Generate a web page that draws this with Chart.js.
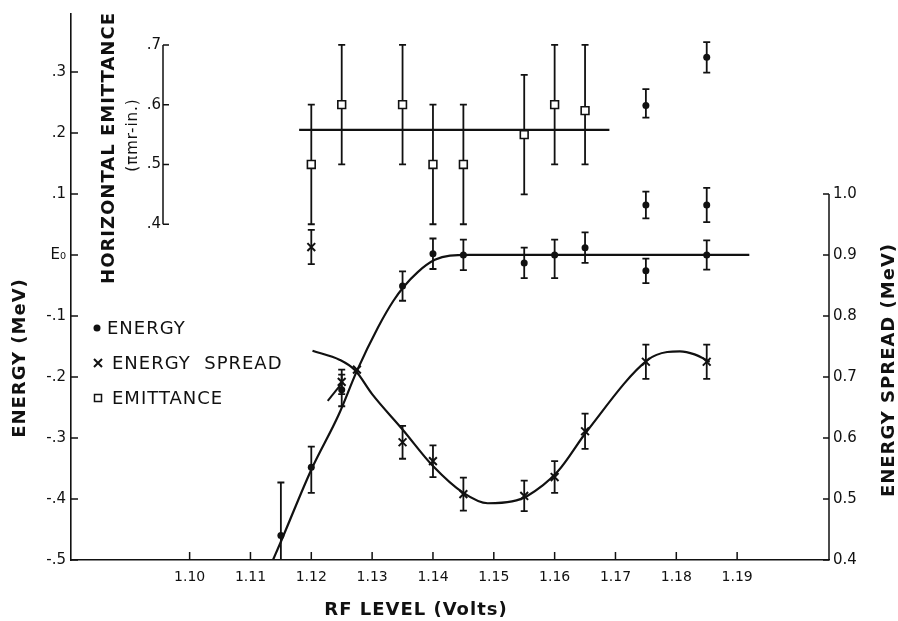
<!DOCTYPE html>
<html lang="en">
<head>
<meta charset="UTF-8">
<title>Energy, energy spread and emittance vs RF level</title>
<script src="https://cdn.jsdelivr.net/npm/chart.js"></script>
<style>
  body { margin: 0; background: #fff; }
</style>
</head>
<body>
<canvas id="myChart" width="898" height="621"></canvas>
<script>
// tick values and labels
const xTicks = [1.10, 1.11, 1.12, 1.13, 1.14, 1.15, 1.16, 1.17, 1.18, 1.19];
const xTickLabels = ['1.10', '1.11', '1.12', '1.13', '1.14', '1.15', '1.16', '1.17', '1.18', '1.19'];
const energyTicks = [-0.5, -0.4, -0.3, -0.2, -0.1, 0, 0.1, 0.2, 0.3];
const energyTickLabels = ['-.5', '-.4', '-.3', '-.2', '-.1', 'E\u2080', '.1', '.2', '.3'];
const spreadTicks = [0.4, 0.5, 0.6, 0.7, 0.8, 0.9, 1.0];
const spreadTickLabels = ['0.4', '0.5', '0.6', '0.7', '0.8', '0.9', '1.0'];
const emitTicks = [0.4, 0.5, 0.6, 0.7];
const emitTickLabels = ['.4', '.5', '.6', '.7'];

// energy (MeV, relative to E0)
const energyX = [1.115, 1.12, 1.125, 1.135, 1.14, 1.145, 1.155, 1.16, 1.165, 1.175, 1.175, 1.175, 1.185, 1.185, 1.185];
const energyY = [-0.46, -0.348, -0.221, -0.051, 0.002, 0.0, -0.013, 0.0, 0.012, 0.245, 0.082, -0.026, 0.324, 0.082, 0.0];
const energyErrUp = [0.087, 0.034, 0.025, 0.024, 0.025, 0.025, 0.025, 0.025, 0.025, 0.027, 0.022, 0.02, 0.025, 0.028, 0.024];
const energyErrDown = [0.087, 0.042, 0.027, 0.024, 0.025, 0.025, 0.025, 0.038, 0.025, 0.02, 0.022, 0.02, 0.025, 0.028, 0.024];

// energy spread (MeV)
const spreadX = [1.12, 1.125, 1.1275, 1.135, 1.14, 1.145, 1.155, 1.16, 1.165, 1.175, 1.185];
const spreadY = [0.913, 0.692, 0.712, 0.593, 0.562, 0.508, 0.505, 0.536, 0.611, 0.725, 0.725];
const spreadErr = [0.028, 0.02, 0, 0.027, 0.026, 0.027, 0.025, 0.026, 0.029, 0.028, 0.028];

// horizontal emittance (pi mr-in.)
const emitX = [1.12, 1.125, 1.135, 1.14, 1.145, 1.155, 1.16, 1.165];
const emitY = [0.5, 0.6, 0.6, 0.5, 0.5, 0.55, 0.6, 0.59];
const emitErrUp = [0.1, 0.1, 0.1, 0.1, 0.1, 0.1, 0.1, 0.11];
const emitErrDown = [0.1, 0.1, 0.1, 0.1, 0.1, 0.1, 0.1, 0.09];

// hand drawn curves
const energyFitX = [1.1137, 1.115, 1.12, 1.1245, 1.1275, 1.131, 1.1335, 1.1352, 1.1375, 1.1403, 1.1428, 1.146, 1.192];
const energyFitY = [-0.5, -0.47, -0.352, -0.262, -0.19, -0.118, -0.075, -0.052, -0.028, -0.008, -0.001, 0, 0];
const spreadFitX = [1.1202, 1.1247, 1.1272, 1.13, 1.135, 1.14, 1.145, 1.149, 1.153, 1.1555, 1.1605, 1.1653, 1.1753, 1.1785, 1.1806, 1.183, 1.1855];
const spreadFitY = [0.743, 0.728, 0.711, 0.672, 0.614, 0.554, 0.51, 0.493, 0.496, 0.505, 0.545, 0.611, 0.728, 0.741, 0.742, 0.737, 0.725];
const spreadStubX = [1.1227, 1.1252];
const spreadStubY = [0.661, 0.692];
const emitFitX = [1.118, 1.169];
const emitFitY = [0.558, 0.558];

const pts = (xs, ys) => xs.map((x, i) => ({ x: x, y: ys[i] }));
const ink = '#111';
const FONT = "'DejaVu Sans', sans-serif";

Chart.defaults.font.family = FONT;
Chart.defaults.color = ink;

// error bars, drawn under the markers
const errorBars = {
    id: 'errorBars',
    beforeDatasetsDraw(chart) {
        const { ctx, chartArea } = chart;
        ctx.save();
        ctx.beginPath();
        ctx.rect(chartArea.left, chartArea.top, chartArea.right - chartArea.left, chartArea.bottom - chartArea.top);
        ctx.clip();
        ctx.strokeStyle = ink;
        ctx.lineWidth = 1.8;
        chart.data.datasets.forEach((ds, i) => {
            if (!ds.errUp) return;
            const meta = chart.getDatasetMeta(i);
            const ys = chart.scales[meta.yAxisID];
            ds.data.forEach((p, j) => {
                if (!ds.errUp[j] && !ds.errDown[j]) return;
                const px = meta.data[j].x;
                const top = ys.getPixelForValue(p.y + ds.errUp[j]);
                const bot = ys.getPixelForValue(p.y - ds.errDown[j]);
                ctx.beginPath();
                ctx.moveTo(px, top); ctx.lineTo(px, bot);
                ctx.moveTo(px - 3.5, top); ctx.lineTo(px + 3.5, top);
                ctx.moveTo(px - 3.5, bot); ctx.lineTo(px + 3.5, bot);
                ctx.stroke();
            });
        });
        ctx.restore();
    }
};

// inward ticks, partial axes, titles and legend
const decor = {
    id: 'decor',
    afterDraw(chart) {
        const { ctx, chartArea: a, scales } = chart;
        const { x, y, y2, y3 } = scales;
        ctx.save();
        ctx.strokeStyle = ink;
        ctx.fillStyle = ink;
        ctx.lineWidth = 1.5;

        ctx.beginPath();
        xTicks.forEach(v => {
            const px = x.getPixelForValue(v);
            ctx.moveTo(px, a.bottom); ctx.lineTo(px, a.bottom - 8);
        });
        energyTicks.forEach(v => {
            const py = y.getPixelForValue(v);
            ctx.moveTo(a.left, py); ctx.lineTo(a.left + 7, py);
        });
        // right axis only runs from 0.4 to 1.0
        ctx.moveTo(a.right, y2.getPixelForValue(0.4));
        ctx.lineTo(a.right, y2.getPixelForValue(1.0));
        spreadTicks.forEach(v => {
            const py = y2.getPixelForValue(v);
            ctx.moveTo(a.right, py); ctx.lineTo(a.right - 6, py);
        });
        // emittance axis inside the plot
        const ex = 163;
        ctx.moveTo(ex, y3.getPixelForValue(0.4));
        ctx.lineTo(ex, y3.getPixelForValue(0.7));
        emitTicks.forEach(v => {
            const py = y3.getPixelForValue(v);
            ctx.moveTo(ex, py); ctx.lineTo(ex + 6, py);
        });
        ctx.stroke();

        ctx.font = '15px ' + FONT;
        ctx.textAlign = 'right';
        ctx.textBaseline = 'middle';
        emitTicks.forEach((v, i) => ctx.fillText(emitTickLabels[i], ex - 2, y3.getPixelForValue(v)));

        const title = (txt, cx, cy, font, rot) => {
            ctx.save();
            ctx.translate(cx, cy);
            if (rot) ctx.rotate(-Math.PI / 2);
            ctx.font = font;
            ctx.letterSpacing = '1px';
            ctx.textAlign = 'center';
            ctx.textBaseline = 'middle';
            ctx.fillText(txt, 0, 0);
            ctx.restore();
        };
        title('RF LEVEL (Volts)', 416, 610, 'bold 18px ' + FONT, false);
        title('ENERGY (MeV)', 20, 358, 'bold 18px ' + FONT, true);
        title('ENERGY SPREAD (MeV)', 889, 370, 'bold 18px ' + FONT, true);
        title('HORIZONTAL EMITTANCE', 109, 148, 'bold 18px ' + FONT, true);
        title('(\u03c0mr-in.)', 133, 135, '15px ' + FONT, true);

        // legend
        ctx.font = '18px ' + FONT;
        ctx.letterSpacing = '1px';
        ctx.textAlign = 'left';
        ctx.textBaseline = 'middle';
        ctx.beginPath();
        ctx.arc(97, 328, 3.5, 0, Math.PI * 2);
        ctx.fill();
        ctx.fillText('ENERGY', 107, 329);
        ctx.lineWidth = 2;
        ctx.beginPath();
        ctx.moveTo(94, 359); ctx.lineTo(102, 367);
        ctx.moveTo(102, 359); ctx.lineTo(94, 367);
        ctx.stroke();
        ctx.fillText('ENERGY  SPREAD', 112, 364);
        ctx.lineWidth = 1.5;
        ctx.strokeRect(94.5, 394.5, 7, 7);
        ctx.fillText('EMITTANCE', 112, 399);
        ctx.restore();
    }
};

const ctx = document.getElementById('myChart').getContext('2d');
new Chart(ctx, {
    type: 'scatter',
    data: {
        datasets: [
            {
                label: 'Energy',
                data: pts(energyX, energyY),
                errUp: energyErrUp, errDown: energyErrDown,
                yAxisID: 'y',
                pointStyle: 'circle', pointRadius: 3.5,
                backgroundColor: ink, borderWidth: 0
            },
            {
                label: 'Energy spread',
                data: pts(spreadX, spreadY),
                errUp: spreadErr, errDown: spreadErr,
                yAxisID: 'y2',
                pointStyle: 'crossRot', pointRadius: 5.5,
                borderColor: ink, borderWidth: 2
            },
            {
                label: 'Emittance',
                data: pts(emitX, emitY),
                errUp: emitErrUp, errDown: emitErrDown,
                yAxisID: 'y3',
                pointStyle: 'rect', pointRadius: 5.5,
                backgroundColor: '#fff', borderColor: ink, borderWidth: 1.6
            },
            {
                label: 'Energy curve',
                data: pts(energyFitX, energyFitY),
                yAxisID: 'y', showLine: true, pointRadius: 0,
                cubicInterpolationMode: 'monotone',
                borderColor: ink, borderWidth: 2.2
            },
            {
                label: 'Spread curve',
                data: pts(spreadFitX, spreadFitY),
                yAxisID: 'y2', showLine: true, pointRadius: 0,
                cubicInterpolationMode: 'monotone',
                borderColor: ink, borderWidth: 2.2
            },
            {
                label: 'Spread stub',
                data: pts(spreadStubX, spreadStubY),
                yAxisID: 'y2', showLine: true, pointRadius: 0,
                borderColor: ink, borderWidth: 2
            },
            {
                label: 'Emittance mean',
                data: pts(emitFitX, emitFitY),
                yAxisID: 'y3', showLine: true, pointRadius: 0,
                borderColor: ink, borderWidth: 2.2
            }
        ]
    },
    options: {
        responsive: false,
        animation: false,
        events: [],
        layout: { padding: { top: 12, left: 0, right: 0, bottom: 0 } },
        plugins: { legend: { display: false }, tooltip: { enabled: false } },
        scales: {
            x: {
                type: 'linear', position: 'bottom',
                min: 1.0805, max: 1.2051,
                afterBuildTicks: s => { s.ticks = xTicks.map(v => ({ value: v })); },
                afterFit: s => { s.height = 61; },
                grid: { display: false, drawTicks: false },
                border: { display: true, color: ink, width: 1.6 },
                ticks: {
                    padding: 9, maxRotation: 0, autoSkip: false,
                    font: { size: 14 },
                    callback: (v, i) => xTickLabels[i]
                }
            },
            y: {
                type: 'linear', position: 'left',
                min: -0.5, max: 0.395,
                afterBuildTicks: s => { s.ticks = energyTicks.map(v => ({ value: v })); },
                afterFit: s => { s.width = 71; },
                grid: { display: false, drawTicks: false },
                border: { display: true, color: ink, width: 1.6 },
                ticks: {
                    padding: 5, autoSkip: false,
                    font: { size: 15 },
                    callback: (v, i) => energyTickLabels[i]
                }
            },
            y2: {
                type: 'linear', position: 'right',
                min: 0.4, max: 1.295,
                afterBuildTicks: s => { s.ticks = spreadTicks.map(v => ({ value: v })); },
                afterFit: s => { s.width = 69; },
                grid: { display: false, drawTicks: false },
                border: { display: false },
                ticks: {
                    padding: 4, autoSkip: false,
                    font: { size: 15 },
                    callback: (v, i) => spreadTickLabels[i]
                }
            },
            y3: {
                type: 'linear', display: false,
                min: -0.1617, max: 0.7517
            }
        }
    },
    plugins: [errorBars, decor]
});
</script>
</body>
</html>
